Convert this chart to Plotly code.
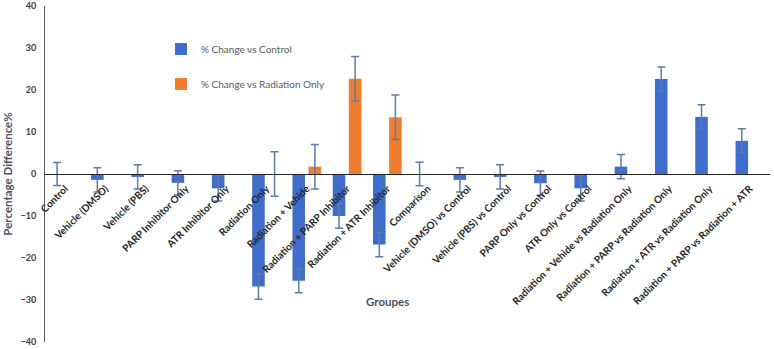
import plotly.graph_objects as go

categories = [
    "Control", "Vehicle (DMSO)", "Vehicle (PBS)", "PARP Inhibitor Only",
    "ATR Inhibitor Only", "Radiation Only", "Radiation + Vehide",
    "Radiation + PARP Inhibitor", "Radiation + ATR Inhibitor", "Comparison",
    "Vehicle (DMSO) vs Control", "Vehicle (PBS) vs Control",
    "PARP Only vs Control", "ATR Only vs Control",
    "Radiation + Vehide vs Radiation Only", "Radiation + PARP vs Radiation Only",
    "Radiation + ATR vs Radiation Only", "Radiation + PARP vs Radiation + ATR",
]
vs_control = [0, -1.4, -0.7, -2.1, -3.4, -26.8, -25.4, -10.0, -16.8,
              0, -1.4, -0.7, -2.2, -3.4, 1.75, 22.6, 13.6, 7.9]
vs_control_err = [2.75, 2.9, 2.9, 2.9, 3.0, 3.0, 2.9, 2.9, 2.9,
                  2.8, 2.9, 2.9, 2.9, 3.0, 2.9, 2.9, 2.9, 2.85]
vs_radiation = [None, None, None, None, None, 0, 1.75, 22.7, 13.5,
                None, None, None, None, None, None, None, None, None]
vs_radiation_err = [None, None, None, None, None, 5.3, 5.3, 5.3, 5.3,
                    None, None, None, None, None, None, None, None, None]
y_ticks = [-40, -30, -20, -10, 0, 10, 20, 30, 40]

FONT = "Lato"
err_color = "#5B7BAA"

fig = go.Figure()
fig.add_trace(go.Bar(
    x=categories, y=vs_control, name="% Change vs Control",
    legendgroup="a",
    marker=dict(color="#3E6DCC", line=dict(width=0)),
    error_y=dict(type="data", array=vs_control_err, visible=True,
                 color=err_color, thickness=1.5, width=4),
))
fig.add_trace(go.Bar(
    x=categories, y=vs_radiation, name="% Change vs Radiation Only",
    legendgroup="b",
    marker=dict(color="#EE7D2E", line=dict(width=0)),
    error_y=dict(type="data", array=vs_radiation_err, visible=True,
                 color=err_color, thickness=1.5, width=4),
))

fig.update_layout(
    width=774, height=349,
    margin=dict(l=45, r=4, t=6, b=7, autoexpand=False),
    plot_bgcolor="white", paper_bgcolor="white",
    barmode="group", bargap=0.2, bargroupgap=0.22,
    font=dict(family=FONT, color="#404040"),
    showlegend=True,
    legend=dict(
        x=0.16, y=0.915, xanchor="left", yanchor="top",
        bgcolor="rgba(0,0,0,0)", tracegroupgap=16,
        font=dict(family=FONT, size=10, color="#595959"),
    ),
    annotations=[dict(
        text="<b>Groupes</b>", xref="paper", yref="paper",
        x=0.473, y=0.121, xanchor="center", yanchor="middle",
        showarrow=False,
        font=dict(family=FONT, size=11.5, color="#44546A"),
    )],
)
fig.update_yaxes(
    range=[-40, 40], tickvals=y_ticks, showgrid=False, zeroline=False,
    showline=True, linecolor="#595959", linewidth=1,
    ticks="", ticklabelstandoff=6,
    tickfont=dict(family=FONT, size=9, color="#404040", weight="bold"),
    title=dict(text="<b>Percentage Difference%</b>", standoff=5,
               font=dict(family=FONT, size=11.5, color="#44546A")),
    automargin=False,
)
fig.update_xaxes(
    anchor="free", position=0.5, showline=True, linecolor="#262626",
    linewidth=1, showgrid=False, zeroline=False, ticks="",
    tickangle=-45, automargin=False, ticklabelstandoff=4,
    tickfont=dict(family=FONT, size=10, color="#262626", weight="bold"),
)

fig.write_html("out.html")
